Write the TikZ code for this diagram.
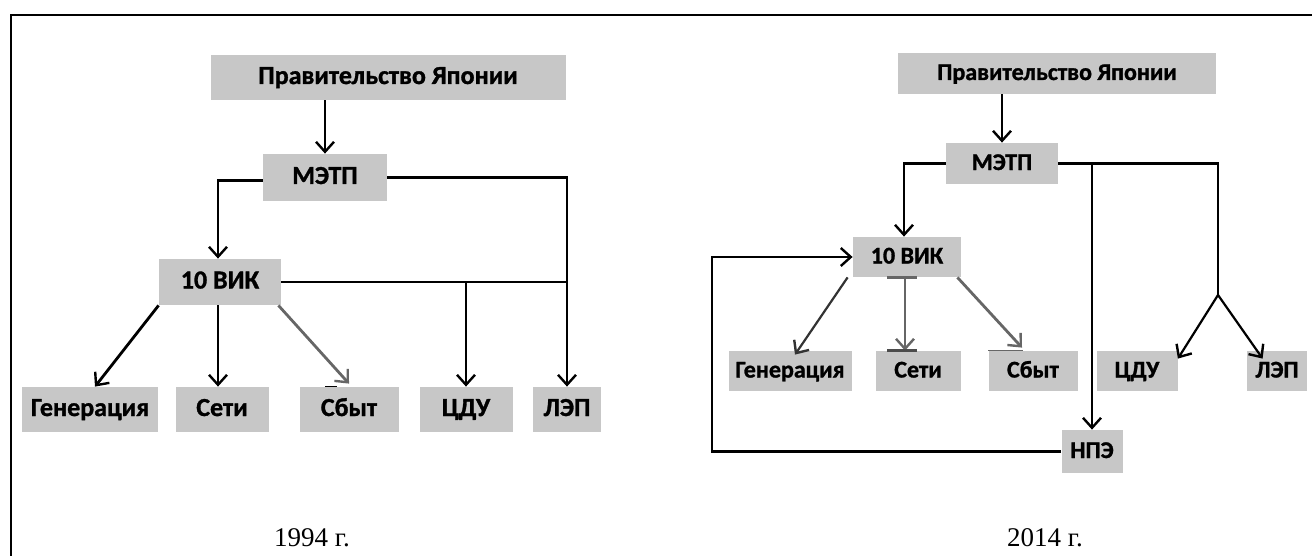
\documentclass[tikz,border=0pt]{standalone}
\usepackage{fontspec}
\setmainfont{Liberation Serif}
\newfontfamily\boxfont[FakeBold=1.2]{Carlito Bold}
\usetikzlibrary{arrows.meta}

\begin{document}
\begin{tikzpicture}[x=0.5pt, y=-0.5pt,
    box/.style={fill=black!22, inner sep=0pt, minimum height=22.5pt, text height=8.5pt, text depth=2pt},
    bigf/.style={font=\boxfont\fontsize{13}{15}\selectfont},
    smallf/.style={font=\boxfont\fontsize{12}{14}\selectfont},
    arr/.style={line width=1.4pt, -{Straight Barb[length=5pt, width=9pt, line width=1.2pt]}},
    arrg/.style={arr, draw=black!60},
    link/.style={line width=1.4pt},
    year/.style={font=\fontsize{13.5}{16}\selectfont}]
    \useasboundingbox (0,0) rectangle (1312,556);
    \draw[line width=1pt] (10.5,556) -- (10.5,15) -- (1312,15);

    % 1994
    \node[box, bigf, minimum width=177.5pt] (gov1) at (388,77.5) {Правительство Японии};
    \node[box, bigf, minimum width=62pt, minimum height=23.5pt] (metp1) at (325,177.5) {МЭТП};
    \node[box, bigf, minimum width=61pt, minimum height=23pt] (vik1) at (220,282) {10 ВИК};
    \node[box, bigf, minimum width=68pt] (gen1) at (90,409.5) {Генерация};
    \node[box, bigf, minimum width=46.5pt] (seti1) at (222,409.5) {Сети};
    \node[box, bigf, minimum width=49.5pt] (sbyt1) at (349,409.5) {Сбыт};
    \node[box, bigf, minimum width=46.5pt] (cdu1) at (466,409.5) {ЦДУ};
    \node[box, bigf, minimum width=34pt] (lep1) at (567,409.5) {ЛЭП};
    \node[year] (y1) at (312,538) {1994 г.};

    \draw[arr] (metp1.north |- gov1.south) -- (metp1.north);
    \draw[arr] ([yshift=-1.5pt]metp1.west) -| ([xshift=-1pt]vik1.north);
    \draw[arr] (metp1.east) -| (lep1.north);
    \draw[link] (vik1.east) -- (vik1.east -| lep1.north);
    \draw[arr] (vik1.east -| cdu1.north) -- (cdu1.north);
    \draw[arr] (vik1.south west) -- ([xshift=2.5pt]gen1.north);
    \draw[arr] ([xshift=-1pt]vik1.south) -- ([xshift=-1pt]vik1.south |- seti1.north);
    \draw[arrg] ([xshift=-1.5pt]vik1.south east) -- ([yshift=1.5pt]sbyt1.north);
    \draw[line width=0.8pt] ([xshift=-12pt]sbyt1.north) -- ++(6pt,0);

    % 2014
    \node[box, smallf, minimum width=159pt, minimum height=20.5pt] (gov2) at (1057,73.5) {Правительство Японии};
    \node[box, smallf, minimum width=56pt, minimum height=20.5pt] (metp2) at (1002,163.5) {МЭТП};
    \node[box, smallf, minimum width=54pt, minimum height=20pt] (vik2) at (907,257) {10 ВИК};
    \node[box, smallf, minimum width=61.5pt, minimum height=20pt] (gen2) at (790,371) {Генерация};
    \node[box, smallf, minimum width=42.5pt, minimum height=20pt] (seti2) at (918,371) {Сети};
    \node[box, smallf, minimum width=44.5pt, minimum height=20pt] (sbyt2) at (1033,371) {Сбыт};
    \node[box, smallf, minimum width=40.5pt, minimum height=20pt] (cdu2) at (1137,371) {ЦДУ};
    \node[box, smallf, minimum width=30pt, minimum height=20pt] (lep2) at (1277,371) {ЛЭП};
    \node[box, smallf, minimum width=30.5pt, minimum height=21.5pt] (npe2) at (1092,451.5) {НПЭ};
    \node[year] (y2) at (1045,538) {2014 г.};
    \coordinate (fork2) at (1218,295);

    \draw[arr, line width=1.1pt] (metp2.north |- gov2.south) -- (metp2.north);
    \draw[arr, line width=1.1pt] (metp2.west) -| ([xshift=-1.5pt]vik2.north);
    \draw[link, line width=1.1pt] (metp2.east) -| (fork2);
    \draw[arr, line width=1.1pt] (metp2.east -| npe2.north) -- (npe2.north);
    \draw[arr, line width=1.1pt] (fork2) -- ([yshift=-4pt]cdu2.north east);
    \draw[arr, line width=1.1pt] (fork2) -- ([xshift=8pt, yshift=-4pt]lep2.north west);
    \draw[arr, line width=1.1pt] (npe2.west) -| ([xshift=-70.5pt]vik2.west) -- (vik2.west);
    \draw[arr, line width=1.1pt, draw=black!80] ([xshift=-2.5pt]vik2.south west) -- ([xshift=2.5pt, yshift=-2pt]gen2.north);
    \draw[arrg, line width=1.1pt] ([xshift=-1pt]vik2.south) -- ([xshift=-1pt]vik2.south |- seti2.north);
    \draw[line width=1.5pt, black!60] ([xshift=-10pt]vik2.south) -- ++(15pt,0);
    \draw[line width=1.5pt, black!70] ([xshift=-15.5pt]seti2.north) -- ++(15pt,0);
    \draw[arrg, line width=1.4pt] ([xshift=-2pt]vik2.south east) -- ([xshift=-5.5pt, yshift=1.5pt]sbyt2.north);
    \draw[line width=0.7pt, black!60] (sbyt2.north west) -- ([xshift=-5pt]sbyt2.north);
\end{tikzpicture}
\end{document}
